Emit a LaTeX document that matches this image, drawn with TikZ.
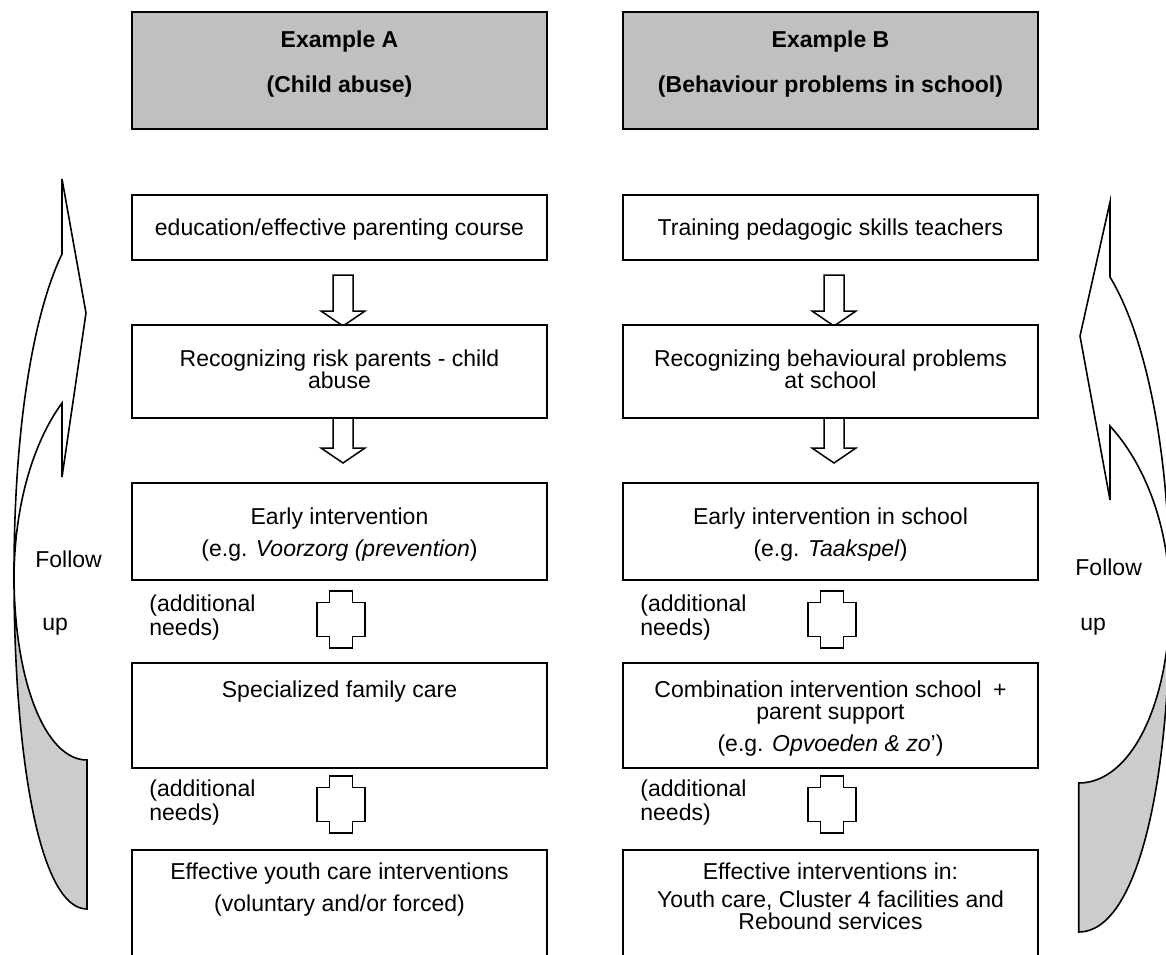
\documentclass[tikz,border=0pt]{standalone}
\usepackage{fontspec}
\setmainfont{Liberation Sans}
\usetikzlibrary{calc}

\definecolor{headgray}{RGB}{192,192,192}
\definecolor{backgray}{RGB}{204,204,204}

\tikzset{
	box/.style={draw, line width=1pt, fill=white, anchor=north west, inner sep=0pt, outer sep=0pt, minimum width=207.5pt},
	headbox/.style={box, fill=headgray},
	txt/.style={anchor=base, align=center, inner sep=0pt, font=\fontsize{11.5}{11}\selectfont},
	note/.style={txt, anchor=base west, align=left, font=\fontsize{11.5}{12}\selectfont},
	blockarrow/.pic={
		\filldraw[fill=white, line width=0.75pt] (-10,0) -- (10,0) -- (10,#1) -- (22,#1) -- (0,#1+15) -- (-22,#1) -- (-10,#1) -- cycle;
	},
	plusmark/.pic={
		\draw[line width=0.75pt] (-11.5,-28.5) -- (11.5,-28.5) -- (11.5,-17) -- (24,-17) -- (24,17) -- (11.5,17) -- (11.5,28.5) -- (-11.5,28.5) -- (-11.5,17) -- (-24,17) -- (-24,-17) -- (-11.5,-17) -- cycle;
	},
	followup/.pic={
		% back of the band
		\filldraw[fill=backgray, line width=0.8pt] (-48,396) .. controls (-48,581) and (-22,730) .. (25,730) -- (25,581) .. controls (-17,581) and (-48,501) .. (-48,396) -- cycle;
		% front of the band with the head
		\filldraw[fill=white, line width=0.8pt] (0,0) -- (24,134) -- (0,298) -- (0,224) .. controls (-27,261) and (-47,321) .. (-48,396) .. controls (-48,241) and (-27,131) .. (0,75) -- cycle;
	}
}

\begin{document}
\begin{tikzpicture}[x=0.5pt, y=-0.5pt]
	\useasboundingbox (0,0) rectangle (1166,954);

	% follow up arrows
	\pic (fl) at (62,179) {followup};
	\pic[xscale=-1.25] (fr) at (1110,202) {followup};

	% down arrows, behind the boxes
	\pic (dA1) at (343,275) {blockarrow=36};
	\pic (dA2) at (343,412) {blockarrow=36};
	\pic (dB1) at (834,275) {blockarrow=36};
	\pic (dB2) at (834,412) {blockarrow=36};

	% column A
	\node[headbox, minimum height=58.5pt] (hA) at (132,12) {};
	\node[box, minimum height=32.5pt] (a1) at (132,195) {};
	\node[box, minimum height=46.5pt] (a2) at (132,325) {};
	\node[box, minimum height=48.5pt] (a3) at (132,483) {};
	\node[box, minimum height=52.5pt] (a4) at (132,663) {};
	\node[box, minimum height=57pt] (a5) at (132,850) {};

	% column B
	\node[headbox, minimum height=58.5pt] (hB) at (623,12) {};
	\node[box, minimum height=32.5pt] (b1) at (623,195) {};
	\node[box, minimum height=46.5pt] (b2) at (623,325) {};
	\node[box, minimum height=48.5pt] (b3) at (623,483) {};
	\node[box, minimum height=52.5pt] (b4) at (623,663) {};
	\node[box, minimum height=57pt] (b5) at (623,850) {};

	% texts, placed at the baseline of their last line
	\node[txt] (thA) at ($(hA.north)+(0,80)$) {\textbf{Example A}\\[11.5pt]\textbf{(Child abuse)}};
	\node[txt] (ta1) at ($(a1.north)+(0,40)$) {education/effective parenting course};
	\node[txt] (ta2) at ($(a2.north)+(0,63)$) {Recognizing risk parents - child\\abuse};
	\node[txt] (ta3) at ($(a3.north)+(0,73)$) {Early intervention\\[5pt](e.g. \textit{Voorzorg (prevention})};
	\node[txt] (ta4) at ($(a4.north)+(0,34)$) {Specialized family care};
	\node[txt] (ta5) at ($(a5.north)+(0,61)$) {Effective youth care interventions\\[5pt](voluntary and/or forced)};

	\node[txt] (thB) at ($(hB.north)+(0,80)$) {\textbf{Example B}\\[11.5pt]\textbf{(Behaviour problems in school)}};
	\node[txt] (tb1) at ($(b1.north)+(0,40)$) {Training pedagogic skills teachers};
	\node[txt] (tb2) at ($(b2.north)+(0,63)$) {Recognizing behavioural problems\\at school};
	\node[txt] (tb3) at ($(b3.north)+(0,73)$) {Early intervention in school\\[5pt](e.g. \textit{Taakspel})};
	\node[txt] (tb4) at ($(b4.north)+(0,88)$) {Combination intervention school\enspace +\\parent support\\[5pt](e.g. \textit{Opvoeden \& zo}')};
	\node[txt] (tb5) at ($(b5.north)+(0,79)$) {Effective interventions in:\\[3pt]Youth care, Cluster 4 facilities and\\Rebound services};

	% additional needs
	\pic (pA1) at (341,619.5) {plusmark};
	\pic (pA2) at (341,804.5) {plusmark};
	\pic (pB1) at (832,619.5) {plusmark};
	\pic (pB2) at (832,804.5) {plusmark};
	\node[note] (nA1) at (149,635) {(additional\\needs)};
	\node[note] (nA2) at (149,820) {(additional\\needs)};
	\node[note] (nB1) at (640,635) {(additional\\needs)};
	\node[note] (nB2) at (640,820) {(additional\\needs)};

	% follow up labels
	\node[note] (fA) at (35,567) {Follow};
	\node[note] (uA) at (42,630) {up};
	\node[note] (fB) at (1075,575) {Follow};
	\node[note] (uB) at (1080,630) {up};
\end{tikzpicture}
\end{document}
